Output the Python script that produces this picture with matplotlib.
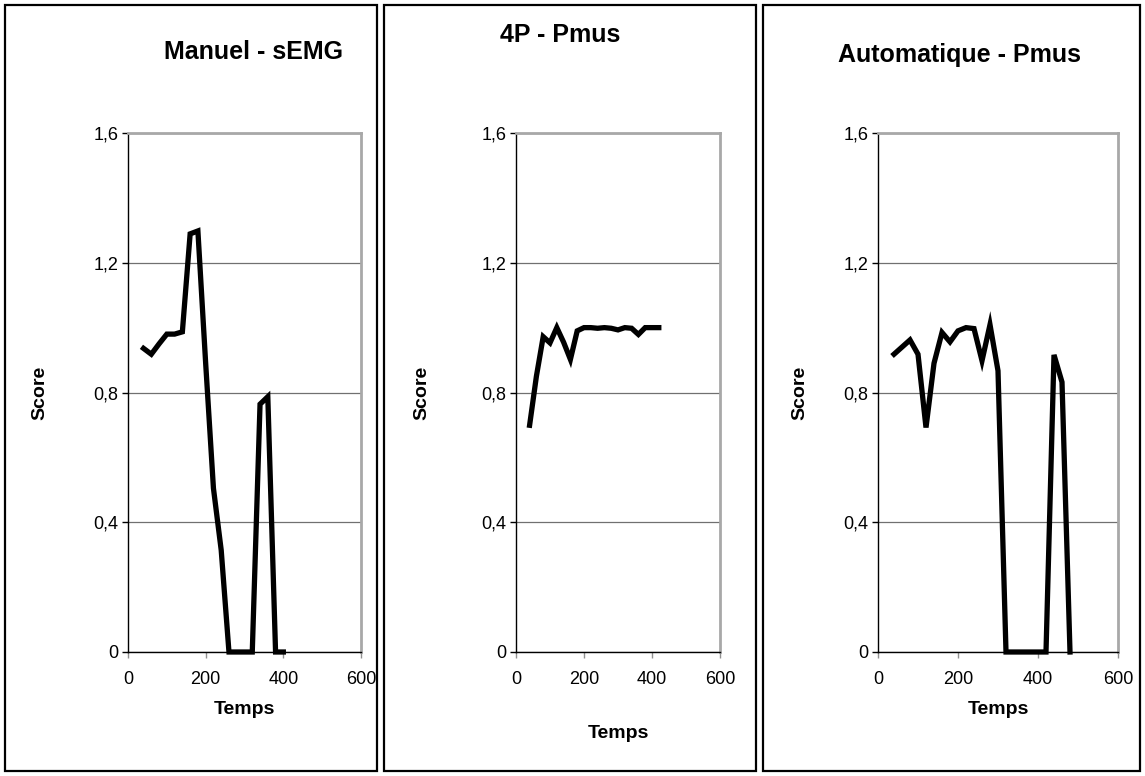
import matplotlib
matplotlib.use("Agg")
import matplotlib.pyplot as plt
from matplotlib.patches import Rectangle

plt.rcParams['font.family'] = ['Liberation Sans', 'DejaVu Sans']

# ---- data ----
titles = ["Manuel - sEMG", "4P - Pmus", "Automatique - Pmus"]
x_label = "Temps"
y_label = "Score"
x_ticks = [0, 200, 400, 600]
y_ticks = [0, 0.4, 0.8, 1.2, 1.6]
y_tick_labels = ["0", "0,4", "0,8", "1,2", "1,6"]

t_manuel = [40, 60, 80, 100, 120, 140, 160, 180, 200, 220, 240, 260, 280, 300, 320, 340, 360, 380, 400]
s_manuel = [0.936, 0.918, 0.95, 0.98, 0.98, 0.987, 1.289, 1.298, 0.89, 0.505, 0.314, 0, 0, 0, 0, 0.764, 0.787, 0, 0]

t_4p = [40, 60, 80, 100, 120, 140, 160, 180, 200, 220, 240, 260, 280, 300, 320, 340, 360, 380, 400, 420]
s_4p = [0.699, 0.85, 0.972, 0.953, 1.0, 0.955, 0.902, 0.99, 1.0, 1.0, 0.998, 1.0, 0.998, 0.993, 1.0, 0.998, 0.979, 1.0, 1.0, 1.0]

t_auto = [40, 60, 80, 100, 120, 140, 160, 180, 200, 220, 240, 260, 280, 300, 320, 340, 360, 380, 400, 420, 440, 460, 480]
s_auto = [0.918, 0.94, 0.962, 0.918, 0.692, 0.89, 0.985, 0.956, 0.99, 1.0, 0.997, 0.898, 1.009, 0.867, 0, 0, 0, 0, 0, 0, 0.916, 0.832, 0]

series = [(t_manuel, s_manuel), (t_4p, s_4p), (t_auto, s_auto)]

# ---- layout (pixels) ----
W, H = 1145, 776
fig = plt.figure(figsize=(W / 100, H / 100), dpi=100)
fig.patch.set_facecolor("white")

def fx(px):
    return px / W

def fy(py):
    return 1 - py / H

axes_px = [(128, 361), (516, 720), (878, 1118)]
ax_top, ax_bot = 133, 652
frames_px = [(5, 377), (384, 756), (763, 1140)]
frame_top, frame_bot = 5, 771
title_pos = [(254, 52), (560, 35), (960, 55)]
temps_y = [709, 733, 709]
score_x = [40, 422, 800]

for (x0, x1) in frames_px:
    fig.patches.append(Rectangle((fx(x0), fy(frame_bot)), fx(x1) - fx(x0), fy(frame_top) - fy(frame_bot),
                                 transform=fig.transFigure, fill=False, edgecolor="black", linewidth=1.6))

for i, ((x0, x1), (t, s)) in enumerate(zip(axes_px, series)):
    ax = fig.add_axes([fx(x0), fy(ax_bot), fx(x1) - fx(x0), fy(ax_top) - fy(ax_bot)])
    ax.set_xlim(0, 600)
    ax.set_ylim(0, 1.6)
    ax.set_xticks(x_ticks)
    ax.set_yticks(y_ticks)
    ax.set_yticklabels(y_tick_labels)
    ax.tick_params(axis="both", labelsize=13, direction="out", length=4, width=1)
    ax.tick_params(axis="x", pad=10, colors="#909090", labelcolor="black")
    ax.tick_params(axis="y", pad=3)
    for side in ["top", "right"]:
        ax.spines[side].set_color("#a8a8a8")
        ax.spines[side].set_linewidth(2)
    for side in ["left", "bottom"]:
        ax.spines[side].set_color("black")
        ax.spines[side].set_linewidth(1)
    ax.yaxis.grid(True, color="#707070", linewidth=0.9)
    ax.set_axisbelow(True)
    ax.plot(t, s, color="black", linewidth=3.8, solid_joinstyle="miter", clip_on=False, zorder=3)

    tx, ty = title_pos[i]
    fig.text(fx(tx), fy(ty), titles[i], ha="center", va="center", fontsize=18, fontweight="bold")
    fig.text(fx((x0 + x1) / 2), fy(temps_y[i]), x_label, ha="center", va="center", fontsize=14, fontweight="bold")
    fig.text(fx(score_x[i]), fy((ax_top + ax_bot) / 2), y_label, ha="center", va="center",
             rotation=90, fontsize=14, fontweight="bold")

fig.savefig("out.png", dpi=100, facecolor="white")
